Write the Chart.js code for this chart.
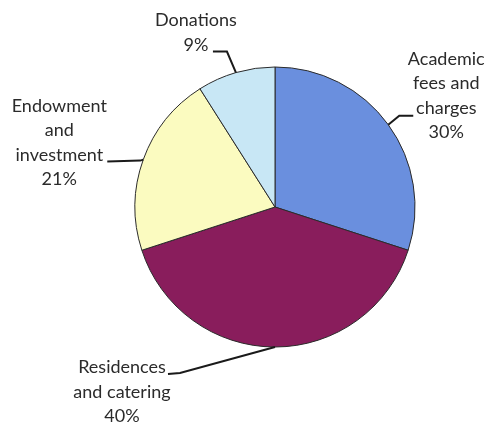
<!DOCTYPE html>
<html>
<head>
<meta charset="utf-8">
<script src="https://cdn.jsdelivr.net/npm/chart.js@4/dist/chart.umd.min.js"></script>
<style>
html,body{margin:0;padding:0;background:#fff;}
#wrap{width:489px;height:423px;position:relative;}
</style>
</head>
<body>
<div id="wrap"><canvas id="c" width="489" height="423"></canvas></div>
<script>
const categories = ["Academic fees and charges", "Residences and catering", "Endowment and investment", "Donations"];
const values = [30, 40, 21, 9];
const labelLines = [
  ["Academic", "fees and", "charges", "30%"],
  ["Residences", "and catering", "40%"],
  ["Endowment", "and", "investment", "21%"],
  ["Donations", "9%"]
];
const colors = ["#6a8fde", "#891d5c", "#fbfbc0", "#c8e7f5"];

// Leader-line & label layout, relative to each slice's mid-angle anchor on the rim (px)
const labelLayout = [
  {elbow:[11,-9],  end:[25,-9],   text:[58,-29]},   // Academic
  {elbow:[-95,26], end:[-107,27], text:[-153,45]},  // Residences
  {elbow:[-3,1],   end:[-36,2],   text:[-84,-17]},  // Endowment
  {elbow:[-9,-21], end:[-23,-21], text:[-40,-40]}   // Donations
];

const leaderPlugin = {
  id: 'leaders',
  afterDatasetsDraw(chart) {
    const ctx = chart.ctx;
    const meta = chart.getDatasetMeta(0);
    ctx.save();
    meta.data.forEach((arc, i) => {
      const p = arc.getProps(['x','y','startAngle','endAngle','outerRadius'], true);
      const mid = (p.startAngle + p.endAngle) / 2;
      const ax = p.x + Math.cos(mid) * p.outerRadius;
      const ay = p.y + Math.sin(mid) * p.outerRadius;
      const L = labelLayout[i];
      ctx.strokeStyle = '#1a1a1a';
      ctx.lineWidth = 2;
      ctx.beginPath();
      ctx.moveTo(ax, ay);
      ctx.lineTo(ax + L.elbow[0], ay + L.elbow[1]);
      ctx.lineTo(ax + L.end[0], ay + L.end[1]);
      ctx.stroke();
      ctx.fillStyle = '#2b2b2b';
      ctx.font = '18px Lato, "Open Sans", sans-serif';
      ctx.textAlign = 'center';
      ctx.textBaseline = 'middle';
      const lines = labelLines[i];
      const tx = ax + L.text[0];
      const ty = ay + L.text[1];
      const lh = 24.5;
      const top = ty - (lines.length - 1) * lh / 2;
      lines.forEach((t, k) => ctx.fillText(t, tx, top + k * lh));
    });
    ctx.restore();
  }
};

new Chart(document.getElementById('c'), {
  type: 'pie',
  data: {
    labels: categories,
    datasets: [{
      data: values,
      backgroundColor: colors,
      borderColor: '#2b2b2b',
      borderWidth: 1
    }]
  },
  options: {
    responsive: false,
    animation: false,
    layout: { padding: { left: 134.5, right: 73.5, top: 66.5, bottom: 75.5 } },
    plugins: { legend: { display: false }, tooltip: { enabled: false } }
  },
  plugins: [leaderPlugin]
});
</script>
</body>
</html>
